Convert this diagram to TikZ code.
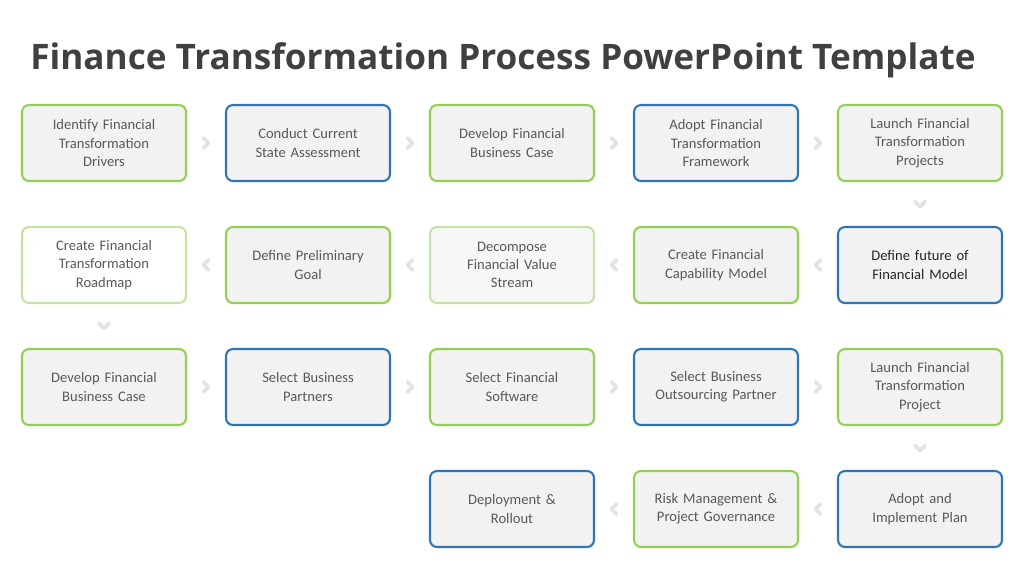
\documentclass[tikz,border=0pt]{standalone}
\usepackage{fontspec}
\setmainfont{Carlito}
\newfontfamily\titlefont{Open Sans}
\usetikzlibrary{calc}
\definecolor{boxgreen}{HTML}{92D050}
\definecolor{paleGreen}{HTML}{C5E3A5}
\definecolor{boxblue}{HTML}{2E75B6}
\definecolor{boxfill}{HTML}{F2F2F2}
\definecolor{txtgray}{HTML}{595959}
\definecolor{chevgray}{HTML}{E3E3E3}
\tikzset{
  step box/.style={rounded corners=4pt, fill=boxfill, line width=1.2pt,
    minimum width=3.28cm, minimum height=1.52cm, align=center,
    text width=3cm, font=\fontsize{8.3}{10.4}\selectfont, text=txtgray},
  green box/.style={step box, draw=boxgreen},
  blue box/.style={step box, draw=boxblue},
  chev/.style={draw=chevgray, line width=2.2pt, line cap=round, line join=round},
}
\begin{document}
\begin{tikzpicture}[x=0.02cm,y=-0.02cm]
\useasboundingbox (0,0) rectangle (1024,576);

\node[font=\titlefont\bfseries\fontsize{20}{22}\selectfont, text=black!75] (title) at (503,60) {Finance Transformation Process PowerPoint Template};

% row 1
\node[green box] (a1) at (104,143) {Identify Financial\\Transformation\\Drivers};
\node[blue box]  (a2) at (308,143) {Conduct Current\\State Assessment};
\node[green box] (a3) at (512,143) {Develop Financial\\Business Case};
\node[blue box]  (a4) at (716,143) {Adopt Financial\\Transformation\\Framework};
\node[green box] (a5) at (920,143) {Launch Financial\\Transformation\\Projects};

% row 2
\node[step box, draw=paleGreen, fill=white] (b1) at (104,265) {Create Financial\\Transformation\\Roadmap};
\node[green box] (b2) at (308,265) {Define Preliminary\\Goal};
\node[step box, draw=paleGreen, fill=boxfill!60] (b3) at (512,265) {Decompose\\Financial Value\\Stream};
\node[green box] (b4) at (716,265) {Create Financial\\Capability Model};
\node[blue box, text=black!85]  (b5) at (920,265) {Define future of\\Financial Model};

% row 3
\node[green box] (c1) at (104,387) {Develop Financial\\Business Case};
\node[blue box]  (c2) at (308,387) {Select Business\\Partners};
\node[green box] (c3) at (512,387) {Select Financial\\Software};
\node[blue box]  (c4) at (716,387) {Select Business\\Outsourcing Partner};
\node[green box] (c5) at (920,387) {Launch Financial\\Transformation\\Project};

% row 4
\node[blue box]  (d3) at (512,509) {Deployment \&\\Rollout};
\node[green box] (d4) at (716,509) {Risk Management \&\\Project Governance};
\node[blue box]  (d5) at (920,509) {Adopt and\\Implement Plan};

% chevrons between steps (rotation 0 = pointing right)
\foreach \p/\q/\r in {a1/a2/0, a2/a3/0, a3/a4/0, a4/a5/0,
                      a5/b5/-90, b5/b4/180, b4/b3/180, b3/b2/180, b2/b1/180,
                      b1/c1/-90, c1/c2/0, c2/c3/0, c3/c4/0, c4/c5/0,
                      c5/d5/-90, d5/d4/180, d4/d3/180}
  \draw[chev, shift={($(\p)!0.5!(\q)$)}, rotate=\r] (-2.5,-5) -- (2.5,0) -- (-2.5,5);
\end{tikzpicture}
\end{document}
